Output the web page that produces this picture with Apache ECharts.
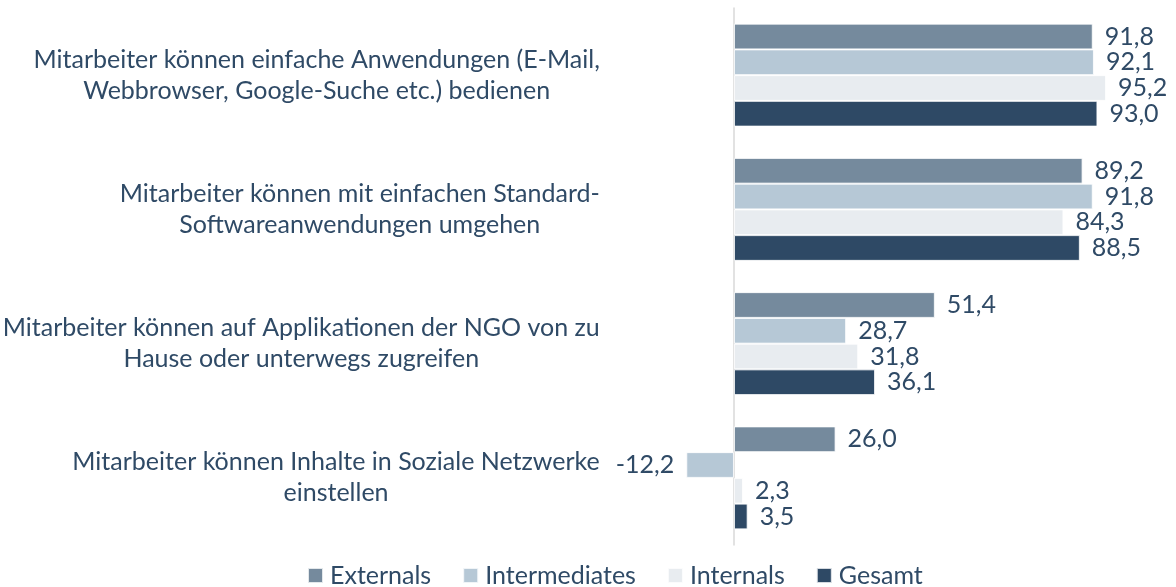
<!DOCTYPE html>
<html>
<head>
<meta charset="utf-8">
<script src="https://cdn.jsdelivr.net/npm/echarts@6/dist/echarts.min.js"></script>
<style>
html,body{margin:0;padding:0;background:#fff;}
#c{width:1176px;height:587px;}
</style>
</head>
<body>
<div id="c"></div>
<script>
const categories = [
  "Mitarbeiter können einfache Anwendungen (E-Mail,\nWebbrowser, Google-Suche etc.) bedienen",
  "Mitarbeiter können mit einfachen Standard-\nSoftwareanwendungen umgehen",
  "Mitarbeiter können auf Applikationen der NGO von zu\nHause oder unterwegs zugreifen",
  "Mitarbeiter können Inhalte in Soziale Netzwerke\neinstellen"
];
const seriesNames = ["Externals", "Intermediates", "Internals", "Gesamt"];
const externals = [91.8, 89.2, 51.4, 26.0];
const intermediates = [92.1, 91.8, 28.7, -12.2];
const internals = [95.2, 84.3, 31.8, 2.3];
const gesamt = [93.0, 88.5, 36.1, 3.5];

const colors = ["#758a9d", "#b6c8d6", "#e8ecf0", "#2e4965"];
const textColor = "#2f4a66";
const FONT = "Lato";
const FS = 25;

const allValues = [externals, intermediates, internals, gesamt];

function fmt(v) { return v.toFixed(1).replace('.', ','); }

const series = allValues.map((vals, i) => ({
  name: seriesNames[i],
  type: 'bar',
  barGap: '0%',
  barCategoryGap: '23.3%',
  itemStyle: { color: colors[i], borderColor: 'rgba(255,255,255,0.8)', borderWidth: 1 },
  label: {
    show: true,
    color: textColor,
    fontFamily: FONT,
    fontSize: FS,
    distance: 12,
    formatter: p => fmt(p.value)
  },
  data: vals.map(v => ({ value: v, label: { position: v < 0 ? 'left' : 'right' } }))
}));

const chart = echarts.init(document.getElementById('c'));
chart.setOption({
  animation: false,
  color: colors,
  grid: { left: 655.8, right: 51.2, top: 8, bottom: 42, containLabel: false, outerBoundsMode: 'none' },
  xAxis: {
    type: 'value', min: -20, max: 100,
    show: false,
    splitLine: { show: false }
  },
  yAxis: {
    type: 'category',
    inverse: true,
    data: categories,
    axisLine: { show: true, onZero: true, lineStyle: { color: '#d9d9d9', width: 1.5 } },
    axisTick: { show: false },
    axisLabel: {
      margin: 56,
      align: 'right',
      formatter: v => v.split('\n').map(l => '{c|' + l + '}').join('\n'),
      rich: {
        c: { align: 'center', color: textColor, fontFamily: FONT, fontSize: FS, lineHeight: 31 }
      }
    }
  },
  legend: {
    data: seriesNames,
    left: 307,
    top: 563,
    padding: 0,
    itemWidth: 15,
    itemHeight: 15,
    itemGap: 31,
    icon: 'rect',
    textStyle: { color: textColor, fontFamily: FONT, fontSize: FS, padding: [0, 0, 0, 2] }
  },
  series: series
});
</script>
</body>
</html>
